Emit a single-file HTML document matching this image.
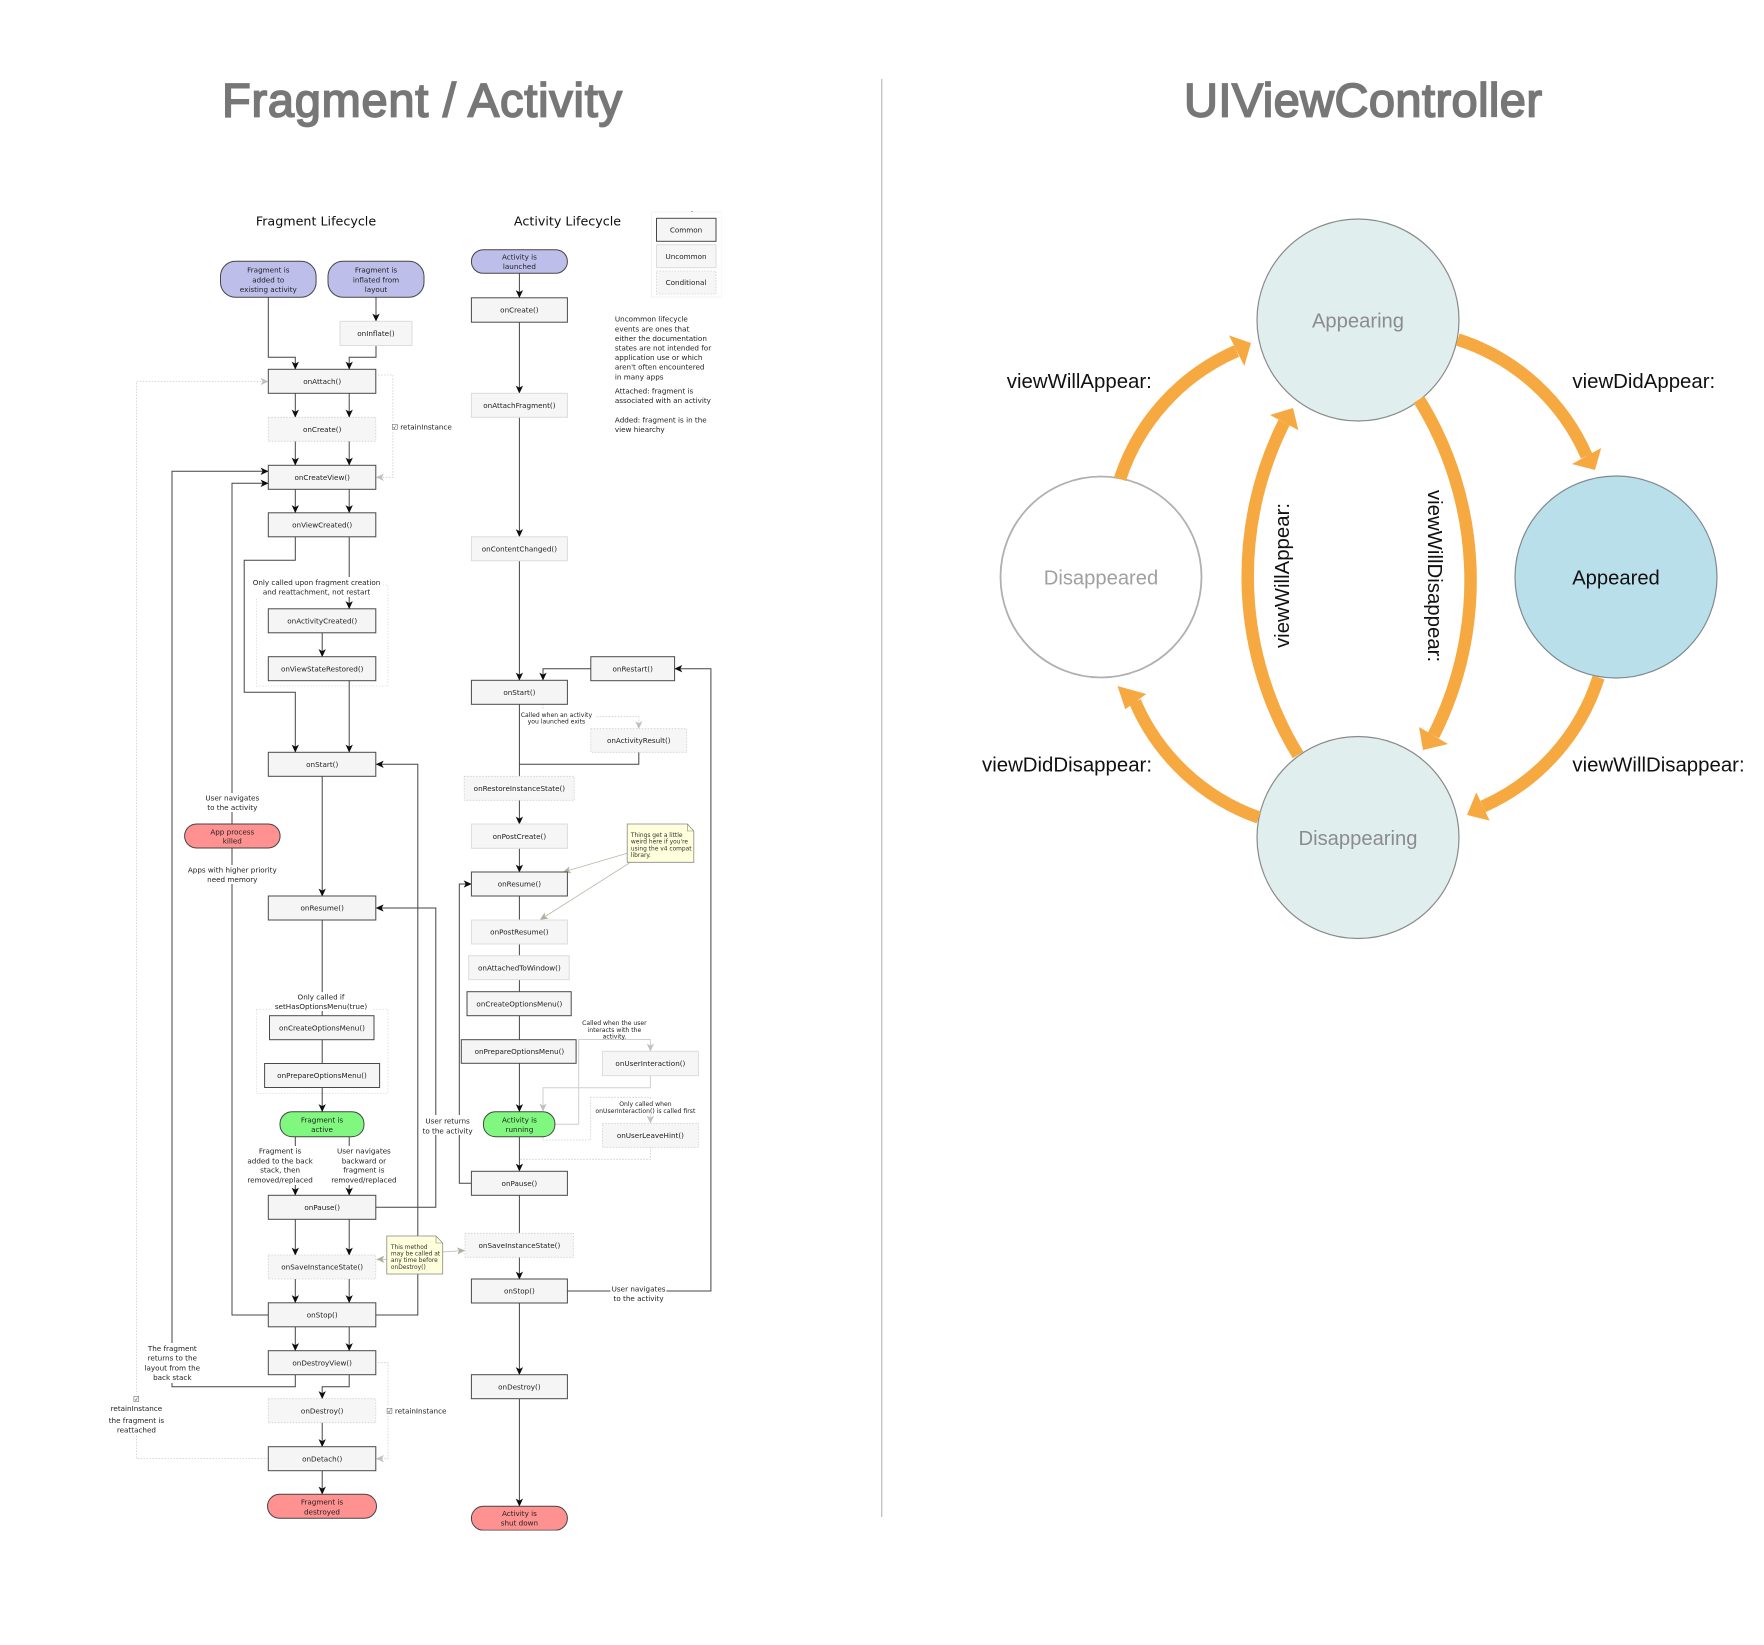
<!DOCTYPE html>
<html><head><meta charset="utf-8"><style>
html,body{margin:0;padding:0;background:#fff}
svg{display:block}
.d text{font-family:"DejaVu Sans",sans-serif;font-size:7.2px;fill:#222;text-anchor:middle}
.d text.l{text-anchor:start}
.d text.s{font-size:6.1px}
.d text.n{font-size:5.9px;text-anchor:start;fill:#333}
.d text.h{font-size:12.7px;fill:#111}
.k{fill:none;stroke:#444;stroke-width:1}
.g{fill:none;stroke:#cfcfcf;stroke-width:1}
.o{fill:none;stroke:#cbcbcb;stroke-width:.8;stroke-dasharray:1.5 1.5}
.c{fill:#f5f5f5;stroke:#4a4a4a;stroke-width:1}
.u{fill:#f6f6f6;stroke:#dcdcdc;stroke-width:1}
.x{fill:#f6f6f6;stroke:#cfcfcf;stroke-width:.8;stroke-dasharray:1.5 1.5}
.w{fill:#fff;stroke:none}
.p{stroke:#444;stroke-width:1}
.r{font-family:"Liberation Sans",Arial,sans-serif}
.a{fill:none;stroke:#f7a941;stroke-width:12.5}
.b{fill:#f7a941}
</style></head><body>
<svg width="1764" height="1645" viewBox="0 0 1764 1645" xmlns="http://www.w3.org/2000/svg">
<defs>
<marker id="m" markerUnits="userSpaceOnUse" markerWidth="8" markerHeight="8" viewBox="0 0 7 7" refX="6.5" refY="3.5" orient="auto"><path d="M0,0.3L7,3.5L0,6.7L1.8,3.5z" fill="#111"/></marker>
<marker id="q" markerUnits="userSpaceOnUse" markerWidth="8" markerHeight="8" viewBox="0 0 7 7" refX="6.5" refY="3.5" orient="auto"><path d="M0,0.3L7,3.5L0,6.7L1.8,3.5z" fill="#c0c0c0"/></marker>
<marker id="y" markerUnits="userSpaceOnUse" markerWidth="8" markerHeight="8" viewBox="0 0 7 7" refX="6.5" refY="3.5" orient="auto"><path d="M0,0.3L7,3.5L0,6.7L1.8,3.5z" fill="#b0b0a2"/></marker>
<filter id="bl" x="0" y="0" width="100%" height="100%"><feGaussianBlur stdDeviation="0.3"/></filter>
</defs>
<rect width="1764" height="1645" fill="#fff"/>

<text class="r" x="222" y="116.7" font-size="47" fill="#777" stroke="#777" stroke-width="1.7" textLength="400" lengthAdjust="spacing">Fragment / Activity</text>
<text class="r" x="1184" y="116.7" font-size="47" fill="#777" stroke="#777" stroke-width="1.7" textLength="358" lengthAdjust="spacing">UIViewController</text>
<rect x="881" y="79" width="1.4" height="1438" fill="#c4c4c4"/>

<g class="d" filter="url(#bl)">
<text class="h" x="316" y="225.5">Fragment Lifecycle</text>
<text class="h" x="567.5" y="225.5">Activity Lifecycle</text>

<rect x="651.5" y="212" width="70" height="85" fill="#fff" stroke="#f3f3f3"/>
<text x="692" y="212" font-size="7">.</text>

<rect x="256.5" y="585" width="131.5" height="101" fill="#fff" stroke="#ddd" stroke-width=".8" stroke-dasharray="1.5 1.5"/>
<rect x="256.5" y="1009.3" width="131.5" height="84" fill="#fff" stroke="#ddd" stroke-width=".8" stroke-dasharray="1.5 1.5"/>

<!-- dark connectors: fragment -->
<path class="k" marker-end="url(#m)" d="M268.3,297V357.3H295.3V369"/>
<path class="k" marker-end="url(#m)" d="M376,297V321"/>
<path class="k" marker-end="url(#m)" d="M376,345.7V357.3H349.2V369"/>
<path class="k" marker-end="url(#m)" d="M295.3,393.3V417"/>
<path class="k" marker-end="url(#m)" d="M349.2,393.3V417"/>
<path class="k" marker-end="url(#m)" d="M295.3,441.3V465"/>
<path class="k" marker-end="url(#m)" d="M349.2,441.3V465"/>
<path class="k" marker-end="url(#m)" d="M295.3,489.3V512.5"/>
<path class="k" marker-end="url(#m)" d="M349.2,489.3V512.5"/>
<path class="k" marker-end="url(#m)" d="M295.3,537V560.3H244.2V692.3H295.3V752"/>
<path class="k" marker-end="url(#m)" d="M349.2,537V608.5"/>
<path class="k" marker-end="url(#m)" d="M322.2,633V656.5"/>
<path class="k" marker-end="url(#m)" d="M349.2,680.5V752"/>
<path class="k" marker-end="url(#m)" d="M322.2,776.3V896"/>
<path class="k" marker-end="url(#m)" d="M322.2,920V1111.5"/>
<path class="k" marker-end="url(#m)" d="M295.3,1137V1195"/>
<path class="k" marker-end="url(#m)" d="M349.2,1137V1195"/>
<path class="k" marker-end="url(#m)" d="M295.3,1219.3V1255"/>
<path class="k" marker-end="url(#m)" d="M349.2,1219.3V1255"/>
<path class="k" marker-end="url(#m)" d="M295.3,1279V1302.5"/>
<path class="k" marker-end="url(#m)" d="M349.2,1279V1302.5"/>
<path class="k" marker-end="url(#m)" d="M295.3,1327V1350.5"/>
<path class="k" marker-end="url(#m)" d="M349.2,1327V1350.5"/>
<path class="k" marker-end="url(#m)" d="M295.3,1374.7V1386.7H172V471.3H268"/>
<path class="k" marker-end="url(#m)" d="M349.2,1374.7V1386.7H322.2V1398.5"/>
<path class="k" marker-end="url(#m)" d="M322.2,1422.7V1446.5"/>
<path class="k" marker-end="url(#m)" d="M322.2,1470.7V1494"/>
<path class="k" marker-end="url(#m)" d="M268.3,1315H232V483.3H268"/>
<path class="k" marker-end="url(#m)" d="M376,1315H417.8V764.3H376.3"/>
<path class="k" marker-end="url(#m)" d="M376,1207.3H435.8V908H376.3"/>

<!-- gray connectors: fragment -->
<path class="o" marker-end="url(#q)" d="M378,375H392.9V477.3H376.5"/>
<path class="o" marker-end="url(#q)" d="M378,1362.7H388V1458.7H376.5"/>
<path class="o" marker-end="url(#q)" d="M268,1458.5H136.4V381.5H268"/>
<path fill="none" stroke="#b8b8aa" stroke-width=".8" marker-end="url(#y)" d="M386.8,1259.3H377"/>
<path fill="none" stroke="#b8b8aa" stroke-width=".8" marker-end="url(#y)" d="M442.7,1252L464.5,1250.5"/>

<!-- label backgrounds -->
<rect class="w" x="252" y="577" width="130" height="20"/>
<rect class="w" x="205" y="793" width="55" height="19"/>
<rect class="w" x="186" y="865" width="93" height="19"/>
<rect class="w" x="272" y="992" width="100" height="19"/>
<rect class="w" x="246" y="1146" width="68" height="39"/>
<rect class="w" x="330" y="1146" width="68" height="39"/>
<rect class="w" x="143" y="1343" width="60" height="40"/>
<rect class="w" x="108" y="1394" width="58" height="41"/>
<rect class="w" x="385" y="421" width="70" height="11"/>
<rect class="w" x="385" y="1405" width="66" height="11"/>

<!-- fragment pills -->
<rect class="p" x="220.5" y="261.3" width="95.6" height="36" rx="15" fill="#bebeea"/>
<rect class="p" x="328" y="261.3" width="96" height="36" rx="15" fill="#bebeea"/>
<rect class="p" x="184.6" y="824" width="95.5" height="24" rx="12" fill="#ff9191"/>
<rect class="p" x="280" y="1111.7" width="84" height="25" rx="12" fill="#80f880"/>
<rect class="p" x="267.5" y="1494.3" width="109" height="24" rx="12" fill="#ff9191"/>

<!-- fragment boxes -->
<rect class="u" x="340" y="321.3" width="72" height="24.2"/>
<rect class="c" x="268.3" y="369.3" width="107.5" height="24"/>
<rect class="x" x="268.3" y="417.3" width="107.5" height="24"/>
<rect class="c" x="268.3" y="465.3" width="107.5" height="24"/>
<rect class="c" x="268.3" y="512.8" width="107.5" height="24"/>
<rect class="c" x="268.3" y="608.8" width="107.5" height="24"/>
<rect class="c" x="268.3" y="656.7" width="107.5" height="24"/>
<rect class="c" x="268.3" y="752.3" width="107.5" height="24"/>
<rect class="c" x="268.3" y="896" width="107.5" height="24"/>
<rect class="c" x="269.5" y="1015.7" width="104.5" height="24"/>
<rect class="c" x="264.6" y="1063.5" width="115" height="24"/>
<rect class="c" x="268.3" y="1195.3" width="107.5" height="24"/>
<rect class="x" x="268.3" y="1255" width="107.5" height="24"/>
<rect class="c" x="268.3" y="1302.8" width="107.5" height="24"/>
<rect class="c" x="268.3" y="1350.7" width="107.5" height="24"/>
<rect class="x" x="268.3" y="1398.7" width="107.5" height="24"/>
<rect class="c" x="268.3" y="1446.7" width="107.5" height="24"/>

<!-- legend -->
<rect class="c" x="656.5" y="218.3" width="59.5" height="23"/>
<rect class="u" x="656.5" y="244.7" width="59.5" height="23"/>
<rect class="x" x="656.5" y="271" width="59.5" height="23"/>

<!-- note 2 -->
<path d="M386.8,1236H436L442.7,1243V1274H386.8z" fill="#ffffdc" stroke="#888" stroke-width=".8"/>
<path d="M436,1236V1243H442.7" fill="none" stroke="#888" stroke-width=".6"/>

<!-- text: fragment -->
<text x="268.3" y="272.7">Fragment is</text><text x="268.3" y="282.3">added to</text><text x="268.3" y="292">existing activity</text>
<text x="376" y="272.7">Fragment is</text><text x="376" y="282.3">inflated from</text><text x="376" y="292">layout</text>
<text x="376" y="336">onInflate()</text>
<text x="322.2" y="383.8">onAttach()</text>
<text x="322.2" y="431.8">onCreate()</text>
<text x="322.2" y="479.8">onCreateView()</text>
<text x="322.2" y="527.5">onViewCreated()</text>
<text x="316.5" y="585">Only called upon fragment creation</text><text x="316.5" y="594.6">and reattachment, not restart</text>
<text x="322.2" y="623.5">onActivityCreated()</text>
<text x="322.2" y="671.3">onViewStateRestored()</text>
<text x="322.2" y="767">onStart()</text>
<text x="232.3" y="800.6">User navigates</text><text x="232.3" y="810">to the activity</text>
<text x="232.3" y="834.3">App process</text><text x="232.3" y="843.3">killed</text>
<text x="232.3" y="872.3">Apps with higher priority</text><text x="232.3" y="882">need memory</text>
<text x="322.2" y="910.7">onResume()</text>
<text x="321" y="999.3">Only called if</text><text x="321" y="1009">setHasOptionsMenu(true)</text>
<text x="322" y="1030.3">onCreateOptionsMenu()</text>
<text x="322" y="1078.2">onPrepareOptionsMenu()</text>
<text x="322" y="1122.5">Fragment is</text><text x="322" y="1132">active</text>
<text x="280.1" y="1153.6">Fragment is</text><text x="280.1" y="1163.3">added to the back</text><text x="280.1" y="1172.6">stack, then</text><text x="280.1" y="1182.3">removed/replaced</text>
<text x="363.9" y="1153.6">User navigates</text><text x="363.9" y="1163.3">backward or</text><text x="363.9" y="1172.6">fragment is</text><text x="363.9" y="1182.3">removed/replaced</text>
<text x="322.2" y="1210">onPause()</text>
<text x="322.2" y="1269.6">onSaveInstanceState()</text>
<text x="322.2" y="1317.6">onStop()</text>
<text x="322.2" y="1365.4">onDestroyView()</text>
<text x="322.2" y="1413.3">onDestroy()</text>
<text x="322.2" y="1461.4">onDetach()</text>
<text x="322" y="1504.7">Fragment is</text><text x="322" y="1514.3">destroyed</text>
<text x="172.3" y="1351">The fragment</text><text x="172.3" y="1360.6">returns to the</text><text x="172.3" y="1370.3">layout from the</text><text x="172.3" y="1380">back stack</text>
<text x="136.4" y="1401.3">☑</text><text x="136.4" y="1411">retainInstance</text>
<text x="136.4" y="1423">the fragment is</text><text x="136.4" y="1432.3">reattached</text>
<text class="l" x="391.5" y="429.3">☑ retainInstance</text>
<text class="l" x="386.2" y="1413.3">☑ retainInstance</text>

<text x="686" y="232.5">Common</text>
<text x="686" y="259">Uncommon</text>
<text x="686" y="285">Conditional</text>

<text class="n" x="390.9" y="1248.8">This method</text>
<text class="n" x="390.9" y="1255.5">may be called at</text>
<text class="n" x="390.9" y="1262.1">any time before</text>
<text class="n" x="390.9" y="1268.8">onDestroy()</text>

<g transform="translate(-.6,0)">
<!-- dark connectors: activity -->
<path class="k" marker-end="url(#m)" d="M520,273.3V297.5"/>
<path class="k" marker-end="url(#m)" d="M520,322V393"/>
<path class="k" marker-end="url(#m)" d="M520,417.3V536.5"/>
<path class="k" marker-end="url(#m)" d="M520,561V680"/>
<path class="k" d="M520,704.3V776.3"/>
<path class="k" marker-end="url(#m)" d="M520,800.3V824"/>
<path class="k" marker-end="url(#m)" d="M520,848.3V872"/>
<path class="k" marker-end="url(#m)" d="M520,896V1111.5"/>
<path class="k" marker-end="url(#m)" d="M520,1137V1171"/>
<path class="k" d="M520,1195.3V1233.3"/>
<path class="k" marker-end="url(#m)" d="M520,1257.3V1279"/>
<path class="k" marker-end="url(#m)" d="M520,1303V1374.5"/>
<path class="k" marker-end="url(#m)" d="M520,1398.7V1506"/>
<path class="k" marker-end="url(#m)" d="M591.4,668.7H543.6V680"/>
<path class="k" d="M639.4,752.3V764.3H520"/>
<path class="k" marker-end="url(#m)" d="M472,1183.3H459.9V884H471.7"/>
<path class="k" marker-end="url(#m)" d="M568,1291H711.5V668.7H675.5"/>

<!-- gray connectors: activity -->
<path class="o" marker-end="url(#q)" d="M543.6,704.3V716.7H639.4V728.5"/>
<path class="g" marker-end="url(#q)" d="M555.5,1124.3H579.3V1039.5H651V1051"/>
<path class="g" marker-end="url(#q)" d="M651,1075.7V1087.7H543.6V1111"/>
<path class="o" marker-end="url(#q)" d="M543.6,1137V1140H591.3V1097.3H651V1123"/>
<path class="o" d="M651,1147V1159.3H520"/>
<path fill="none" stroke="#b8b8aa" stroke-width=".8" marker-end="url(#y)" d="M627.8,853.3L564,872"/>
<path fill="none" stroke="#b8b8aa" stroke-width=".8" marker-end="url(#y)" d="M630,863L541,919.5"/>

<!-- label backgrounds -->
<rect class="w" x="521" y="710" width="76" height="16"/>
<rect class="w" x="611" y="1284" width="56" height="19"/>
<rect class="w" x="586" y="1018" width="58" height="20"/>
<rect class="w" x="597" y="1099" width="100" height="15"/>
<rect class="w" x="422" y="1115" width="53" height="20"/>
<text x="448.2" y="1123.6">User returns</text><text x="448.2" y="1133.3">to the activity</text>

<!-- activity pills -->
<rect class="p" x="472" y="249.7" width="96" height="23.6" rx="11.8" fill="#bebeea"/>
<rect class="p" x="484" y="1111.7" width="71.5" height="25" rx="12" fill="#80f880"/>
<rect class="p" x="472" y="1506.3" width="96" height="24" rx="12" fill="#ff9191"/>

<!-- activity boxes -->
<rect class="c" x="472" y="297.8" width="96" height="24.4"/>
<rect class="u" x="472" y="393.3" width="96" height="24"/>
<rect class="u" x="472" y="536.8" width="96" height="24"/>
<rect class="c" x="591.4" y="656.7" width="83.8" height="24"/>
<rect class="c" x="472" y="680.3" width="96" height="24"/>
<rect class="x" x="591.4" y="728.7" width="96" height="23.6"/>
<rect class="x" x="464.8" y="776.3" width="110" height="24"/>
<rect class="u" x="472" y="824" width="96" height="24.3"/>
<rect class="c" x="472" y="872" width="96" height="24"/>
<rect class="u" x="472" y="920" width="96" height="24"/>
<rect class="u" x="469.3" y="955.7" width="100.5" height="24"/>
<rect class="c" x="467.6" y="991.7" width="104.2" height="24"/>
<rect class="c" x="461.9" y="1039.7" width="114.8" height="23.6"/>
<rect class="u" x="603" y="1051.3" width="96" height="24.4"/>
<rect class="x" x="603" y="1123.3" width="96" height="24"/>
<rect class="c" x="472" y="1171.3" width="96" height="24"/>
<rect class="x" x="465.6" y="1233.3" width="108.3" height="24"/>
<rect class="c" x="472" y="1279" width="96" height="24"/>
<rect class="c" x="472" y="1374.7" width="96" height="24"/>

<!-- note 1 -->
<path d="M627.8,824H688L694.4,831V862.3H627.8z" fill="#ffffdc" stroke="#888" stroke-width=".8"/>
<path d="M688,824V831H694.4" fill="none" stroke="#888" stroke-width=".6"/>

<!-- text: activity -->
<text x="520" y="259.5">Activity is</text><text x="520" y="269">launched</text>
<text x="520" y="312.7">onCreate()</text>
<text x="520" y="408">onAttachFragment()</text>
<text x="520" y="551.5">onContentChanged()</text>
<text x="633.3" y="671.3">onRestart()</text>
<text x="520" y="695">onStart()</text>
<text class="s" x="557" y="717">Called when an activity</text><text class="s" x="557" y="723.6">you launched exits</text>
<text x="639.4" y="743">onActivityResult()</text>
<text x="520" y="791">onRestoreInstanceState()</text>
<text x="520" y="838.8">onPostCreate()</text>
<text x="520" y="886.7">onResume()</text>
<text x="520" y="934.7">onPostResume()</text>
<text x="520" y="970.3">onAttachedToWindow()</text>
<text x="520" y="1006.3">onCreateOptionsMenu()</text>
<text x="520" y="1054">onPrepareOptionsMenu()</text>
<text class="s" x="615" y="1025">Called when the user</text><text class="s" x="615" y="1032">interacts with the</text><text class="s" x="615" y="1038.6">activity.</text>
<text x="651" y="1066">onUserInteraction()</text>
<text class="s" x="646" y="1106">Only called when</text><text class="s" x="646" y="1113">onUserInteraction() is called first</text>
<text x="520" y="1122.5">Activity is</text><text x="520" y="1132">running</text>
<text x="651" y="1138">onUserLeaveHint()</text>
<text x="520" y="1186">onPause()</text>
<text x="520" y="1248">onSaveInstanceState()</text>
<text x="520" y="1293.7">onStop()</text>
<text x="639.2" y="1291.3">User navigates</text><text x="639.2" y="1301">to the activity</text>
<text x="520" y="1389.3">onDestroy()</text>
<text x="520" y="1516">Activity is</text><text x="520" y="1525.6">shut down</text>

<text class="l" x="615.5" y="321.6">Uncommon lifecycle</text>
<text class="l" x="615.5" y="331.3">events are ones that</text>
<text class="l" x="615.5" y="340.9">either the documentation</text>
<text class="l" x="615.5" y="350.3">states are not intended for</text>
<text class="l" x="615.5" y="359.9">application use or which</text>
<text class="l" x="615.5" y="369.3">aren't often encountered</text>
<text class="l" x="615.5" y="379.3">in many apps</text>
<text class="l" x="615.5" y="393.3">Attached: fragment is</text>
<text class="l" x="615.5" y="402.9">associated with an activity</text>
<text class="l" x="615.5" y="422.3">Added: fragment is in the</text>
<text class="l" x="615.5" y="431.9">view hiearchy</text>

<text class="n" x="631.5" y="836.8">Things get a little</text>
<text class="n" x="631.5" y="843.5">weird here if you're</text>
<text class="n" x="631.5" y="850.4">using the v4 compat</text>
<text class="n" x="631.5" y="857.1">library.</text>
</g>
</g>

<!-- UIViewController -->
<g>
<circle cx="1358" cy="320" r="101" fill="#e0eeee" stroke="#8a8a8a" stroke-width="1.2"/>
<circle cx="1616" cy="577" r="101" fill="#b9dfea" stroke="#7f8a8e" stroke-width="1.2"/>
<circle cx="1101" cy="577" r="100.5" fill="#fff" stroke="#b0b0b0" stroke-width="1.8"/>
<circle cx="1358" cy="837.5" r="101" fill="#e0eeee" stroke="#8a8a8a" stroke-width="1.2"/>

<path class="a" d="M1120,479A211,211 0 0 1 1236.6,351"/>
<path class="b" d="M1251,343L1229,335.4L1244.3,366z"/>
<path class="a" d="M1457.7,339.5A211,211 0 0 1 1586.6,456"/>
<path class="b" d="M1595,470L1572,464L1601.2,448z"/>
<path class="a" d="M1598.5,677.5A211,211 0 0 1 1483,806.5"/>
<path class="b" d="M1467,815L1476.3,792.4L1489.6,820.6z"/>
<path class="a" d="M1258.7,817.5A211,211 0 0 1 1135,701.6"/>
<path class="b" d="M1117.5,686L1146.3,694L1125.3,709.3z"/>
<path class="a" d="M1298,755A343,343 0 0 1 1284,422.6"/>
<path class="b" d="M1293,408L1270,415L1298.4,430.3z"/>
<path class="a" d="M1419,399.5A343,343 0 0 1 1433.5,735.5"/>
<path class="b" d="M1423,750L1419,727L1448,744z"/>

<g class="r" font-size="20.2" text-anchor="middle">
<text x="1358" y="327.5" fill="#8c8c8c">Appearing</text>
<text x="1616" y="584.7" fill="#111">Appeared</text>
<text x="1101" y="584.7" fill="#a0a0a0">Disappeared</text>
<text x="1358" y="845" fill="#8c8c8c">Disappearing</text>
</g>
<g class="r" font-size="20.4" fill="#111">
<text x="1006.8" y="388">viewWillAppear:</text>
<text x="1572.4" y="388">viewDidAppear:</text>
<text x="1152" y="771.5" text-anchor="end">viewDidDisappear:</text>
<text x="1572.4" y="771.5">viewWillDisappear:</text>
<text transform="translate(1289,575.5) rotate(-90)" text-anchor="middle">viewWillAppear:</text>
<text transform="translate(1428,576) rotate(90)" text-anchor="middle">viewWillDisappear:</text>
</g>
</g>
</svg>
</body></html>
